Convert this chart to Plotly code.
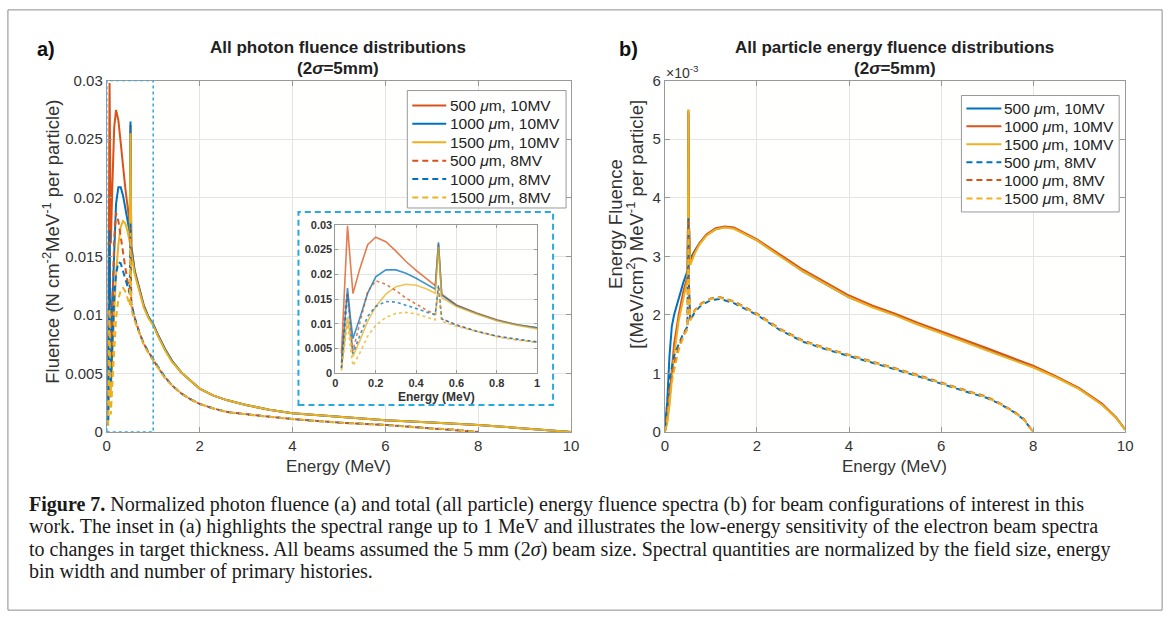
import plotly.graph_objects as go

W, H = 1171, 619
# empirical compensation of the photographed page placement
AX, BX = 0.9913, 4.07
AY, BY = 0.977, 7.1
def px(x):
    return ((x - BX) / AX) / W
def py(y):
    return 1 - ((y - BY) / AY) / H

# ---------------- Panel a: photon fluence (N cm^-2 MeV^-1 per particle) ----------------
E_ph10 = [0.03, 0.045, 0.06, 0.075, 0.087, 0.12, 0.16, 0.2, 0.25, 0.3, 0.35, 0.4, 0.45, 0.495,
          0.511, 0.527, 0.6, 0.7, 0.8, 0.9, 1.0,
          1.1, 1.25, 1.4, 1.6, 1.8, 2.0, 2.3, 2.6, 3.0, 3.5, 4.0, 5.0, 6.0, 7.0, 8.0, 9.0, 10.0]
E_ph8 = [0.03, 0.045, 0.06, 0.075, 0.087, 0.12, 0.16, 0.2, 0.25, 0.3, 0.35, 0.4, 0.45, 0.495,
         0.511, 0.527, 0.6, 0.7, 0.8, 0.9, 1.0,
         1.1, 1.25, 1.4, 1.6, 1.8, 2.0, 2.3, 2.6, 3.0, 3.5, 4.0, 5.0, 6.0, 7.0, 7.5, 8.0]

ph_500_10MV = [0.004, 0.018, 0.0298, 0.022, 0.0161, 0.021, 0.026, 0.0275, 0.0266, 0.0247, 0.0226,
               0.0208, 0.0192, 0.0177, 0.0262, 0.0160, 0.0138, 0.0122, 0.0108, 0.0098, 0.0092,
               0.0083, 0.0071, 0.0061, 0.0051, 0.0044, 0.0037, 0.0031, 0.0027, 0.0023, 0.0019,
               0.0016, 0.0013, 0.0010, 0.0008, 0.0006, 0.0003, 0.0]
ph_1000_10MV = [0.002, 0.009, 0.0172, 0.011, 0.0070, 0.011, 0.0162, 0.0195, 0.0209, 0.0209, 0.0202,
                0.0192, 0.0180, 0.0170, 0.0265, 0.0158, 0.0137, 0.0121, 0.0107, 0.0098, 0.0092,
                0.0083, 0.0071, 0.0061, 0.0051, 0.0044, 0.0037, 0.0031, 0.0027, 0.0023, 0.0019,
                0.0016, 0.0013, 0.0010, 0.0008, 0.0006, 0.0003, 0.0]
ph_1500_10MV = [0.001, 0.006, 0.0114, 0.007, 0.0034, 0.0065, 0.0105, 0.0135, 0.0160, 0.0175, 0.0180,
                0.0178, 0.0171, 0.0162, 0.0255, 0.0153, 0.0135, 0.0120, 0.0106, 0.0097, 0.0091,
                0.0082, 0.0070, 0.0060, 0.0051, 0.0044, 0.0037, 0.0031, 0.0027, 0.0023, 0.0019,
                0.0016, 0.0013, 0.0010, 0.0008, 0.0006, 0.0003, 0.0]
ph_500_8MV = [0.001, 0.012, 0.0163, 0.010, 0.0045, 0.010, 0.0165, 0.0187, 0.0180, 0.0167, 0.0152,
              0.0140, 0.0128, 0.0119, 0.0175, 0.0110, 0.0098, 0.0085, 0.0075, 0.0068, 0.0062,
              0.0055, 0.0047, 0.0040, 0.0033, 0.0028, 0.0024, 0.0020, 0.0017, 0.0015, 0.0013,
              0.0011, 0.0008, 0.0006, 0.0003, 0.0002, 0.0]
ph_1000_8MV = [0.001, 0.008, 0.0160, 0.009, 0.0040, 0.0075, 0.0115, 0.0135, 0.0145, 0.0144, 0.0138,
               0.0131, 0.0124, 0.0118, 0.0178, 0.0110, 0.0097, 0.0085, 0.0075, 0.0068, 0.0062,
               0.0055, 0.0047, 0.0040, 0.0033, 0.0028, 0.0024, 0.0020, 0.0017, 0.0015, 0.0013,
               0.0011, 0.0008, 0.0006, 0.0003, 0.0002, 0.0]
ph_1500_8MV = [0.0005, 0.005, 0.0105, 0.005, 0.0015, 0.004, 0.0075, 0.0097, 0.0113, 0.0121, 0.0123,
               0.0120, 0.0114, 0.0108, 0.0170, 0.0105, 0.0095, 0.0084, 0.0074, 0.0067, 0.0061,
               0.0054, 0.0046, 0.0040, 0.0033, 0.0028, 0.0024, 0.0020, 0.0017, 0.0015, 0.0013,
               0.0011, 0.0008, 0.0006, 0.0003, 0.0002, 0.0]

# ---------------- Panel b: energy fluence (x 1e-3) ----------------
E_ef10 = [0, 0.05, 0.1, 0.15, 0.2, 0.3, 0.4, 0.49, 0.503, 0.511, 0.519, 0.55, 0.65, 0.75, 0.9, 1.1,
          1.3, 1.5, 2, 2.5, 3, 3.5, 4, 4.5, 5, 5.5, 6, 6.5, 7, 7.5, 8, 8.5, 9, 9.5, 9.8, 10]
E_ef8 = [0, 0.05, 0.1, 0.15, 0.2, 0.3, 0.4, 0.49, 0.503, 0.511, 0.519, 0.55, 0.65, 0.8, 1.0, 1.2,
         1.5, 2, 2.5, 3, 3.5, 4, 4.5, 5, 5.5, 6, 6.5, 7, 7.3, 7.6, 7.8, 8]

ef_500_10MV = [0.05, 0.5, 1.3, 1.8, 2.0, 2.3, 2.55, 2.75, 3.6, 5.45, 3.6, 2.95, 3.1, 3.22, 3.36, 3.46,
               3.5, 3.48, 3.27, 3.01, 2.74, 2.52, 2.3, 2.14, 2.0, 1.84, 1.7, 1.55, 1.41, 1.27, 1.12,
               0.94, 0.74, 0.47, 0.25, 0.04]
ef_1000_10MV = [0.0, 0.2, 0.6, 1.1, 1.5, 2.0, 2.4, 2.65, 3.6, 5.5, 3.6, 2.9, 3.08, 3.22, 3.37, 3.48,
                3.51, 3.49, 3.29, 3.03, 2.77, 2.55, 2.33, 2.16, 2.02, 1.86, 1.72, 1.57, 1.43, 1.28, 1.13,
                0.95, 0.75, 0.48, 0.25, 0.04]
ef_1500_10MV = [0.0, 0.15, 0.45, 0.9, 1.3, 1.9, 2.3, 2.6, 3.6, 5.5, 3.6, 2.85, 3.05, 3.2, 3.35, 3.46,
                3.49, 3.47, 3.27, 3.0, 2.74, 2.52, 2.3, 2.13, 1.99, 1.83, 1.69, 1.54, 1.39, 1.25, 1.1,
                0.93, 0.73, 0.46, 0.24, 0.04]
ef_500_8MV = [0.05, 0.5, 0.9, 1.1, 1.3, 1.5, 1.68, 1.8, 2.6, 3.65, 2.6, 1.9, 2.05, 2.17, 2.25, 2.27,
              2.2, 2.0, 1.74, 1.54, 1.41, 1.3, 1.19, 1.07, 0.95, 0.82, 0.7, 0.58, 0.47, 0.33, 0.21, 0.0]
ef_1000_8MV = [0.0, 0.3, 0.7, 0.95, 1.15, 1.45, 1.65, 1.78, 2.6, 3.6, 2.6, 1.92, 2.08, 2.2, 2.28, 2.3,
               2.23, 2.02, 1.76, 1.56, 1.43, 1.32, 1.21, 1.09, 0.97, 0.84, 0.72, 0.6, 0.48, 0.34, 0.22, 0.0]
ef_1500_8MV = [0.0, 0.2, 0.55, 0.85, 1.05, 1.4, 1.62, 1.76, 2.6, 3.5, 2.6, 1.9, 2.07, 2.19, 2.27, 2.29,
               2.22, 2.01, 1.75, 1.55, 1.42, 1.31, 1.2, 1.08, 0.96, 0.83, 0.71, 0.59, 0.47, 0.33, 0.21, 0.0]

labels = ["500 <i>μ</i>m, 10MV", "1000 <i>μ</i>m, 10MV", "1500 <i>μ</i>m, 10MV",
          "500 <i>μ</i>m, 8MV", "1000 <i>μ</i>m, 8MV", "1500 <i>μ</i>m, 8MV"]

x_ticks = [0, 2, 4, 6, 8, 10]
a_yticks = [0, 0.005, 0.01, 0.015, 0.02, 0.025, 0.03]
a_yticktext = ["0", "0.005", "0.01", "0.015", "0.02", "0.025", "0.03"]
b_yticks = [0, 1, 2, 3, 4, 5, 6]
in_xticks = [0, 0.2, 0.4, 0.6, 0.8, 1]
in_xticktext = ["0", "0.2", "0.4", "0.6", "0.8", "1"]

BLUE, ORANGE, YELLOW = "#0072BD", "#D95319", "#EDB120"
DASH = "6px,4px"
SANS = "Liberation Sans, Arial, sans-serif"
SERIF = "Liberation Serif, Times New Roman, serif"
TXT = "#333333"

fig = go.Figure()

a_series = [(E_ph10, ph_500_10MV, ORANGE, "solid"), (E_ph10, ph_1000_10MV, BLUE, "solid"),
            (E_ph10, ph_1500_10MV, YELLOW, "solid"), (E_ph8, ph_500_8MV, ORANGE, DASH),
            (E_ph8, ph_1000_8MV, BLUE, DASH), (E_ph8, ph_1500_8MV, YELLOW, DASH)]
for (xs, ys, c, d), name in zip(a_series, labels):
    fig.add_trace(go.Scatter(x=xs, y=ys, mode="lines", name=name, showlegend=False,
                             line=dict(color=c, width=2, dash=d), xaxis="x", yaxis="y"))

b_series = [(E_ef10, ef_500_10MV, BLUE, "solid"), (E_ef10, ef_1000_10MV, ORANGE, "solid"),
            (E_ef10, ef_1500_10MV, YELLOW, "solid"), (E_ef8, ef_500_8MV, BLUE, DASH),
            (E_ef8, ef_1000_8MV, ORANGE, DASH), (E_ef8, ef_1500_8MV, YELLOW, DASH)]
for (xs, ys, c, d), name in zip(b_series, labels):
    fig.add_trace(go.Scatter(x=xs, y=ys, mode="lines", name=name, showlegend=False,
                             line=dict(color=c, width=2, dash=d), xaxis="x2", yaxis="y2"))

# helper (white backing of the inset box)
fig.add_trace(go.Scatter(x=[], y=[], mode="lines", showlegend=False, xaxis="x3", yaxis="y3"))

# inset
for (xs, ys, c, d) in a_series:
    fig.add_trace(go.Scatter(x=xs, y=ys, mode="lines", showlegend=False, opacity=0.75,
                             line=dict(color=c, width=1.6, dash="solid" if d == "solid" else "3px,3px"),
                             xaxis="x4", yaxis="y4"))

axis_common = dict(showline=True, linecolor="#999999", linewidth=1, mirror="allticks",
                   ticks="inside", ticklen=5, tickcolor="#999999", showgrid=True,
                   gridcolor="#e4e4e4", gridwidth=1, zeroline=False,
                   tickfont=dict(family=SANS, size=15, color=TXT))
inset_common = {**axis_common, "ticklen": 3,
                "tickfont": dict(family=SANS, size=11, color=TXT, weight="bold")}

fig.update_layout(
    xaxis=dict(domain=[px(107), px(572)], anchor="y", range=[0, 10], tickvals=x_ticks, **axis_common),
    yaxis=dict(domain=[py(432), py(79)], anchor="x", range=[0, 0.03], tickvals=a_yticks,
               ticktext=a_yticktext, **axis_common),
    xaxis2=dict(domain=[px(666), px(1127)], anchor="y2", range=[0, 10], tickvals=x_ticks, **axis_common),
    yaxis2=dict(domain=[py(432), py(79)], anchor="x2", range=[0, 6], tickvals=b_yticks, **axis_common),
    xaxis3=dict(domain=[px(299), px(554)], anchor="y3", visible=False, range=[0, 1]),
    yaxis3=dict(domain=[py(405), py(211)], anchor="x3", visible=False, range=[0, 1]),
    xaxis4=dict(domain=[px(336), px(538)], anchor="y4", range=[0, 1], tickvals=in_xticks,
                ticktext=in_xticktext, **inset_common),
    yaxis4=dict(domain=[py(373), py(224)], anchor="x4", range=[0, 0.03], tickvals=a_yticks,
                ticktext=a_yticktext, **inset_common),
    margin=dict(l=0, r=0, t=0, b=0), autosize=True,
    paper_bgcolor="#ffffff", plot_bgcolor="#fffffe",
    showlegend=False,
)

shapes = [
    dict(type="rect", xref="paper", yref="paper", x0=px(8), x1=px(1164), y0=py(611), y1=py(8),
         line=dict(color="#8c8c8c", width=1), layer="above"),
    dict(type="rect", xref="x", yref="y", x0=0, x1=1, y0=0, y1=0.03,
         line=dict(color="#2aa8e0", width=1.5, dash="dot"), layer="above"),
    dict(type="rect", xref="paper", yref="paper", x0=px(299), x1=px(554), y0=py(405), y1=py(211),
         line=dict(color="#2aa8e0", width=2, dash="6px,4px"), layer="above"),
]

def ann(x, y, text, size, bold=False, angle=0, family=SANS, color=TXT, xanchor="center"):
    return dict(x=px(x), y=py(y), xref="paper", yref="paper", text=text, showarrow=False,
                xanchor=xanchor, yanchor="middle", textangle=angle,
                font=dict(family=family, size=size, color=color, weight="bold" if bold else "normal"))

annotations = [
    ann(46, 47, "a)", 20, bold=True, color="#111111"),
    ann(630, 47, "b)", 20, bold=True, color="#111111"),
    ann(339, 46, "All photon fluence distributions", 17, bold=True, color="#222222"),
    ann(339, 67, "(2<i>σ</i>=5mm)", 17, bold=True, color="#222222"),
    ann(896, 46, "All particle energy fluence distributions", 17, bold=True, color="#222222"),
    ann(896, 67, "(2<i>σ</i>=5mm)", 17, bold=True, color="#222222"),
    ann(684, 70, "×10<sup>-3</sup>", 14),
    ann(339, 467, "Energy (MeV)", 17),
    ann(896, 467, "Energy (MeV)", 17),
    ann(437, 397, "Energy (MeV)", 12, bold=True),
    ann(51, 241, "Fluence (N cm<sup>-2</sup>MeV<sup>-1</sup> per particle)", 18.5, angle=-90),
    ann(617, 223, "Energy Fluence", 18.5, angle=-90),
    ann(636, 223, "[(MeV/cm<sup>2</sup>) MeV<sup>-1</sup> per particle]", 18.5, angle=-90),
    ann(27, 505, "<b>Figure 7.</b> Normalized photon fluence (a) and total (all particle) energy fluence "
                 "spectra (b) for beam configurations of interest in this", 20, family=SERIF,
        color="#1a1a1a", xanchor="left"),
    ann(27, 527, "work. The inset in (a) highlights the spectral range up to 1 MeV and illustrates the "
                 "low-energy sensitivity of the electron beam spectra", 20, family=SERIF,
        color="#1a1a1a", xanchor="left"),
    ann(27, 550, "to changes in target thickness. All beams assumed the 5 mm (2<i>σ</i>) beam size. "
                 "Spectral quantities are normalized by the field size, energy", 20, family=SERIF,
        color="#1a1a1a", xanchor="left"),
    ann(27, 572, "bin width and number of primary histories.", 20, family=SERIF,
        color="#1a1a1a", xanchor="left"),
]

# hand-drawn legends (MATLAB-style compact boxes)
def add_legend(box, rows_y, sx0, sx1, tx, series):
    x0, y0, x1, y1 = box
    shapes.append(dict(type="rect", xref="paper", yref="paper", x0=px(x0), x1=px(x1),
                       y0=py(y1), y1=py(y0), line=dict(color="#999999", width=1),
                       fillcolor="white", layer="above"))
    for ry, (xs, ys, c, d), name in zip(rows_y, series, labels):
        shapes.append(dict(type="line", xref="paper", yref="paper", x0=px(sx0), x1=px(sx1),
                           y0=py(ry), y1=py(ry), line=dict(color=c, width=2, dash=d), layer="above"))
        annotations.append(ann(tx, ry, name, 15.5, color="#222222", xanchor="left"))

add_legend((408, 89, 567, 207), [104, 122.5, 141, 159.5, 178, 196.5], 413, 447, 449, a_series)
add_legend((963, 94, 1121, 211), [107, 125, 143, 161, 179, 197.5], 968, 1003, 1004, b_series)

fig.update_layout(shapes=shapes, annotations=annotations)

fig.write_html("out.html", default_width="100vw", default_height="100vh",
               config={"responsive": True, "displayModeBar": False},
               post_script="document.body.style.margin='0px';document.body.style.overflow='hidden';"
                           "window.dispatchEvent(new Event('resize'));")
